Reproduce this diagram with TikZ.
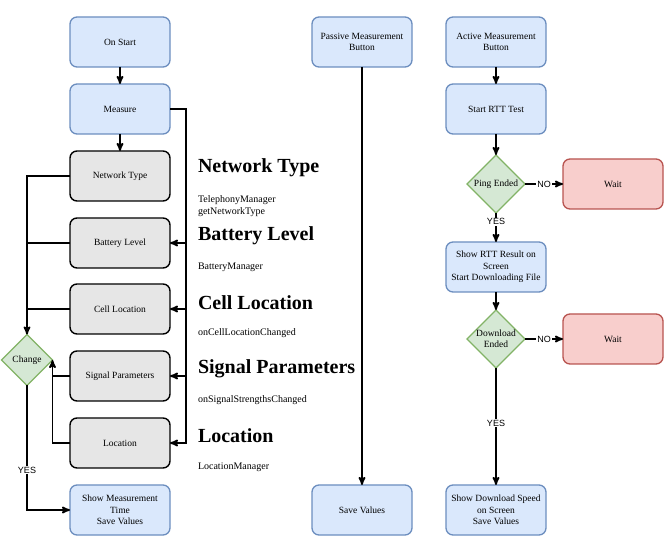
\documentclass[tikz,border=0pt]{standalone}
\usepackage{fontspec}
\setmainfont{Liberation Serif}
\newfontfamily\lblfont{Liberation Sans}
\usetikzlibrary{shapes,arrows,calc}
\definecolor{bluefill}{HTML}{DAE8FC}
\definecolor{blueline}{HTML}{6C8EBF}
\definecolor{grayfill}{HTML}{E6E6E6}
\definecolor{greenfill}{HTML}{D5E8D4}
\definecolor{greenline}{HTML}{82B366}
\definecolor{redfill}{HTML}{F8CECC}
\definecolor{redline}{HTML}{B85450}

\begin{document}
\begin{tikzpicture}[x=1pt, y=-1pt, >=stealth', outer sep=0pt,
  font=\fontsize{9.5}{11.5}\selectfont,
  bluebox/.style={rectangle, rounded corners=7pt, draw=blueline, fill=bluefill,
    line width=1.3pt, minimum width=100pt, minimum height=50pt, align=center, inner sep=1pt},
  graybox/.style={bluebox, draw=black, line width=1.4pt, fill=grayfill},
  redbox/.style={bluebox, draw=redline, fill=redfill},
  greendia/.style={diamond, draw=greenline, fill=greenfill, line width=1.3pt,
    minimum width=#1, minimum height=#1, inner sep=0pt, align=center},
  greendia/.default=58pt,
  heading/.style={anchor=west, font=\fontsize{20}{24}\selectfont\bfseries, inner sep=0pt},
  apiname/.style={anchor=west, align=left, font=\fontsize{10}{12}\selectfont, inner sep=0pt},
  wire/.style={line width=1.7pt},
  flow/.style={->, wire},
  yesno/.style={fill=white, inner sep=1pt, font=\lblfont\fontsize{9}{10}\selectfont}]

\useasboundingbox (0,0) rectangle (665,540);

% left column
\node[bluebox] at (120,42) (start) {On Start};
\node[bluebox] at (120,109) (measure) {Measure};
\node[graybox] at (120,176) (nettype) {Network Type};
\node[graybox] at (120,243) (battery) {Battery Level};
\node[graybox] at (120,309) (cellloc) {Cell Location};
\node[graybox] at (120,376) (signal) {Signal Parameters};
\node[graybox] at (120,443) (loc) {Location};
\node[bluebox] at (120,510) (showmeas) {Show Measurement\\Time\\Save Values};
\node[greendia=51pt] at (27,360) (change) {Change};
\coordinate (bus) at (186,443);

\draw[flow] (start) -- (measure);
\draw[flow] (measure) -- (nettype);
\draw[flow] (measure.east) -| (bus) -- (loc.east);
\foreach \n in {battery, cellloc, signal}
  \draw[flow] (\n.east -| bus) -- (\n.east);

\draw[flow] (nettype.west) -| (change.north);
\draw[wire] (battery.west) -- (battery.west -| change.north);
\draw[wire] (cellloc.west) -- (cellloc.west -| change.north);
\draw[flow] (loc.west) -| (change.east);
\draw[wire] (signal.west) -- (signal.west -| change.east);
\draw[flow] (change.south) |- node[yesno, pos=0.34] {YES} (showmeas.west);

% what each box reads
\node[heading] at (198,168) (hnet) {Network Type};
\node[apiname] at (198,206) (anet) {TelephonyManager\\getNetworkType};
\node[heading] at (198,236) (hbat) {Battery Level};
\node[apiname] at (198,267) (abat) {BatteryManager};
\node[heading] at (198,303) (hcell) {Cell Location};
\node[apiname] at (198,333) (acell) {onCellLocationChanged};
\node[heading] at (198,369) (hsig) {Signal Parameters};
\node[apiname] at (198,400) (asig) {onSignalStrengthsChanged};
\node[heading] at (198,436) (hloc) {Location};
\node[apiname] at (198,467) (aloc) {LocationManager};

% passive measurement
\node[bluebox] at (362,42) (passive) {Passive Measurement\\Button};
\node[bluebox] at (362,510) (savevals) {Save Values};
\draw[flow] (passive) -- (savevals);

% active measurement
\node[bluebox] at (496,42) (active) {Active Measurement\\Button};
\node[bluebox] at (496,109) (rtt) {Start RTT Test};
\node[greendia] at (496,184) (ping) {Ping Ended};
\node[redbox] at (613,184) (wait1) {Wait};
\node[bluebox] at (496,267) (showrtt) {Show RTT Result on\\Screen\\Start Downloading File};
\node[greendia] at (496,339) (dl) {Download\\Ended};
\node[redbox] at (613,339) (wait2) {Wait};
\node[bluebox] at (496,510) (showdl) {Show Download Speed\\on Screen\\Save Values};

\draw[flow] (active) -- (rtt);
\draw[flow] (rtt) -- (ping);
\draw[flow] (ping.east) -- node[yesno] {NO} (wait1.west);
\draw[flow] (ping.south) -- node[yesno, pos=0.3] {YES} (showrtt.north);
\draw[flow] (showrtt) -- (dl);
\draw[flow] (dl.east) -- node[yesno] {NO} (wait2.west);
\draw[flow] (dl.south) -- node[yesno, pos=0.47] {YES} (showdl.north);

\end{tikzpicture}
\end{document}
